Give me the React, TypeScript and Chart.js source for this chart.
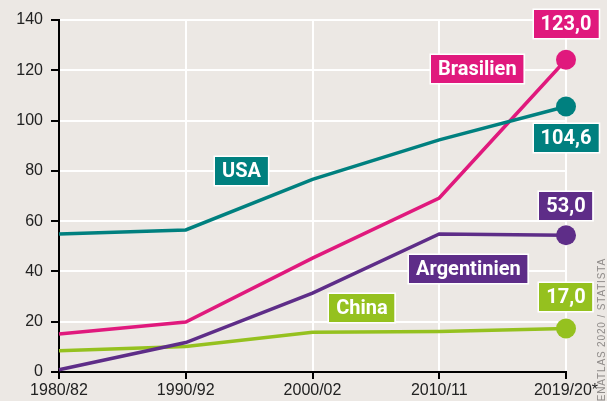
import React, { useEffect, useRef } from "react";
import { Chart, registerables } from "chart.js";

Chart.register(...registerables);

const categories = ["1980/82", "1990/92", "2000/02", "2010/11", "2019/20*"];
const usa = [54.9, 56.5, 76.6, 92.3, 105.6];
const brasilien = [15.1, 19.9, 45.3, 69.2, 124.2];
const argentinien = [0.9, 11.7, 31.4, 54.9, 54.4];
const china = [8.5, 10.1, 15.8, 16.1, 17.3];
const seriesNames = ["USA", "Brasilien", "Argentinien", "China"];
const valueLabels = ["104,6", "123,0", "53,0", "17,0"];
const colors = ["#00807f", "#e0197d", "#5e2d88", "#95c11f"];
const yTicks = [0, 20, 40, 60, 80, 100, 120, 140];
const sourceText = "INSEKTENATLAS 2020 / STATISTA";

// label placement (data coords for name tags, pixel offsets for end values)
const nameTagPos = [
  { x: 1.44, y: 80 },
  { x: 3.3, y: 120.5 },
  { x: 3.23, y: 41 },
  { x: 2.39, y: 25.5 },
];
const valueTagOffset = [32, -36, -29, -32];

const BG = "#ece8e4";
const TAG_FONT = "bold 20px Roboto, 'Liberation Sans', sans-serif";

function drawTag(ctx: CanvasRenderingContext2D, text: string, cx: number, cy: number, color: string) {
  ctx.save();
  ctx.font = TAG_FONT;
  const w = ctx.measureText(text).width + 14;
  const h = 28;
  const x = Math.round(cx - w / 2);
  const y = Math.round(cy - h / 2);
  ctx.fillStyle = color;
  ctx.fillRect(x, y, w, h);
  ctx.strokeStyle = "#ffffff";
  ctx.lineWidth = 1.5;
  ctx.strokeRect(x - 0.75, y - 0.75, w + 1.5, h + 1.5);
  ctx.fillStyle = "#ffffff";
  ctx.textAlign = "center";
  ctx.textBaseline = "middle";
  ctx.fillText(text, cx, cy + 1);
  ctx.restore();
}

const tagPlugin = {
  id: "tags",
  beforeDraw(chart: any) {
    const ctx = chart.ctx;
    ctx.save();
    ctx.fillStyle = BG;
    ctx.fillRect(0, 0, chart.width, chart.height);
    ctx.restore();
  },
  afterDatasetsDraw(chart: any) {
    const ctx = chart.ctx as CanvasRenderingContext2D;
    const xs = chart.scales.x;
    const ys = chart.scales.y;
    chart.data.datasets.forEach((ds: any, i: number) => {
      const last = ds.data.length - 1;
      const px = xs.getPixelForValue(last);
      const py = ys.getPixelForValue(ds.data[last]);
      drawTag(ctx, valueLabels[i], px, py + valueTagOffset[i], colors[i]);
      const p = nameTagPos[i];
      const nx = xs.left + (xs.right - xs.left) * (p.x / (categories.length - 1));
      drawTag(ctx, seriesNames[i], nx, ys.getPixelForValue(p.y), colors[i]);
    });
    ctx.save();
    ctx.translate(602, 258);
    ctx.rotate(-Math.PI / 2);
    ctx.font = "10px 'Liberation Sans', sans-serif";
    (ctx as any).letterSpacing = "0.85px";
    ctx.fillStyle = "#8f8b89";
    ctx.textAlign = "right";
    ctx.textBaseline = "middle";
    ctx.fillText(sourceText, 0, 0);
    ctx.restore();
  },
};

export default function App() {
  const ref = useRef<HTMLCanvasElement>(null);
  useEffect(() => {
    document.body.style.margin = "0";
    const series = [usa, brasilien, argentinien, china];
    const chart = new Chart(ref.current!, {
      type: "line",
      data: {
        labels: categories,
        datasets: series.map((d, i) => ({
          label: seriesNames[i],
          data: d,
          borderColor: colors[i],
          backgroundColor: colors[i],
          borderWidth: 3.5,
          tension: 0,
          pointRadius: d.map((_, j) => (j === d.length - 1 ? 10 : 0)),
          pointBorderWidth: 0,
          clip: false as any,
        })),
      },
      options: {
        responsive: false,
        animation: false,
        layout: { padding: { top: 20, right: 41, left: 0, bottom: 0 } },
        plugins: { legend: { display: false }, tooltip: { enabled: false } },
        scales: {
          x: {
            offset: false,
            grid: { color: "#ffffff", lineWidth: 2, tickColor: "#000000", tickLength: 7, tickWidth: 2 },
            border: { color: "#000000", width: 2 },
            ticks: {
              color: "#222222",
              padding: 2,
              maxRotation: 0,
              autoSkip: false,
              font: { family: "'Liberation Sans Narrow', 'Liberation Sans', sans-serif", size: 16 },
            },
            afterFit: (s: any) => { s.height = 29; },
          },
          y: {
            min: 0,
            max: 140,
            afterBuildTicks: (s: any) => { s.ticks = yTicks.map((v) => ({ value: v })); },
            grid: { color: "#ffffff", lineWidth: 2, tickColor: "#000000", tickLength: 8, tickWidth: 2 },
            border: { color: "#000000", width: 2 },
            ticks: {
              color: "#222222",
              padding: 8,
              font: { family: "'Liberation Sans Narrow', 'Liberation Sans', sans-serif", size: 16 },
            },
            afterFit: (s: any) => { s.width = 59; },
          },
        },
      },
      plugins: [tagPlugin],
    });
    return () => chart.destroy();
  }, []);
  return <canvas ref={ref} width={607} height={401} style={{ display: "block" }} />;
}
